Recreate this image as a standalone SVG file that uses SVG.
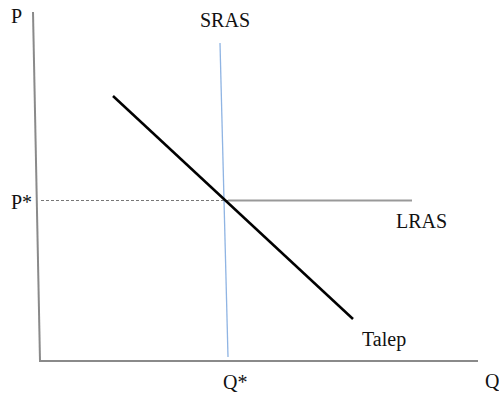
<svg xmlns="http://www.w3.org/2000/svg" width="499" height="394" viewBox="0 0 499 394">
<style>
text{font-family:"Liberation Serif","Times New Roman",serif;font-size:20px;fill:#111}
.axis{stroke:#8a8a8a;stroke-width:2;fill:none}
</style>
<rect width="499" height="394" fill="#fff"/>
<g id="axes">
<line class="axis" x1="33" y1="12" x2="40" y2="361"/>
<line class="axis" x1="39" y1="361" x2="478" y2="361"/>
<text x="11" y="23">P</text>
<text x="485" y="388">Q</text>
</g>
<g id="connectors">
<line x1="41" y1="200.5" x2="228" y2="200.5" stroke="#777" stroke-width="1" stroke-dasharray="3,2"/>
<line x1="228" y1="200.5" x2="412" y2="200.5" stroke="#999" stroke-width="2"/>
<line x1="220" y1="43" x2="228" y2="357" stroke="#8fb4e3" stroke-width="1.3"/>
<line x1="113" y1="96" x2="353" y2="319" stroke="#000" stroke-width="2.5"/>
</g>
<g id="labels">
<text x="200" y="27">SRAS</text>
<text x="11" y="209">P*</text>
<text x="396" y="228">LRAS</text>
<text x="362" y="346">Talep</text>
<text x="223" y="389">Q*</text>
</g>
</svg>
